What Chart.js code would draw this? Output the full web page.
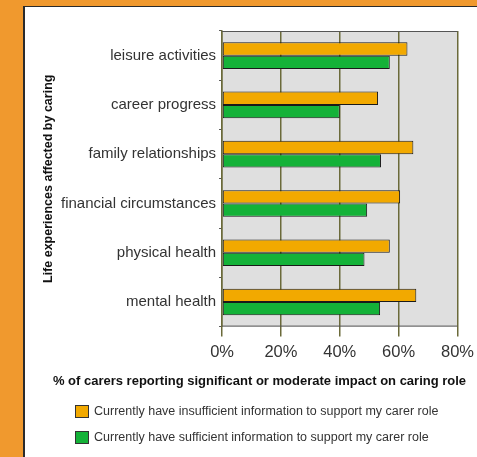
<!DOCTYPE html>
<html>
<head>
<meta charset="utf-8">
<script src="https://cdn.jsdelivr.net/npm/chart.js@4/dist/chart.umd.min.js"></script>
<style>
    html, body { margin: 0; padding: 0; }
    body { width: 477px; height: 457px; background: #f0992e; overflow: hidden; position: relative; }
    .panel {
        position: absolute; left: 23px; top: 6px; width: 454px; height: 451px;
        background: #fff; border-left: 2px solid #2b2b2b; border-top: 1px solid #2b2b2b;
    }
    /* a little wider than the panel so the last x label can sit at the edge */
    .chart-wrap { position: absolute; left: 0; top: 0; width: 455px; height: 450px; }
    .legend { position: absolute; left: 50px; top: 391px; font: 12.5px "Liberation Sans", Arial, sans-serif; color: #333; }
    .legend-row { display: flex; align-items: center; height: 26px; }
    .legend-box { width: 14px; height: 13px; border: 1px solid #333; box-sizing: border-box; margin-right: 5px; }
</style>
</head>
<body>
<div class="panel">
    <div class="chart-wrap"><canvas id="chart"></canvas></div>
    <div class="legend" id="legend"></div>
</div>
<script>
const categories = ["leisure activities", "career progress", "family relationships",
    "financial circumstances", "physical health", "mental health"];
const insufficientInfo = [63, 53, 65, 60.5, 57, 66];
const sufficientInfo = [57, 40, 54, 49.3, 48.4, 53.7];
const xTicks = [0, 20, 40, 60, 80];
const seriesNames = ["Currently have insufficient information to support my carer role",
    "Currently have sufficient information to support my carer role"];
const seriesColors = ["#f2a900", "#14b238"];

const FONT = "'Liberation Sans', Arial, sans-serif";

// grey plot background with a frame round it
const plotFrame = {
    id: "plotFrame",
    beforeDraw(chart) {
        const {ctx, chartArea: a} = chart;
        ctx.save();
        ctx.fillStyle = "#dfdfdf";
        ctx.fillRect(a.left, a.top, a.right - a.left, a.bottom - a.top);
        ctx.restore();
    },
    afterDraw(chart) {
        const {ctx, chartArea: a} = chart;
        ctx.save();
        ctx.strokeStyle = "#555";
        ctx.lineWidth = 1;
        ctx.beginPath();
        ctx.moveTo(a.left, a.top + 0.5);
        ctx.lineTo(a.right, a.top + 0.5);
        ctx.moveTo(a.left, a.bottom - 0.5);
        ctx.lineTo(a.right, a.bottom - 0.5);
        ctx.stroke();
        ctx.restore();
    }
};

const chart = new Chart(document.getElementById("chart"), {
    type: "bar",
    data: {
        labels: categories,
        datasets: [
            {label: seriesNames[0], data: insufficientInfo, backgroundColor: seriesColors[0]},
            {label: seriesNames[1], data: sufficientInfo, backgroundColor: seriesColors[1]}
        ]
    },
    options: {
        indexAxis: "y",
        responsive: true,
        maintainAspectRatio: false,
        animation: false,
        datasets: {
            bar: {
                borderColor: "#1a1a1a",
                borderWidth: 1,
                borderSkipped: false,
                barPercentage: 1,
                categoryPercentage: 0.54
            }
        },
        layout: {padding: {top: 24, left: 14, right: 0, bottom: 68}},
        plugins: {
            legend: {display: false},
            tooltip: {enabled: false},
            title: {
                display: true,
                position: "bottom",
                weight: 500,
                text: "% of carers reporting significant or moderate impact on caring role",
                color: "#111",
                font: {family: FONT, size: 13, weight: "bold"},
                padding: {top: 5, bottom: 0}
            }
        },
        scales: {
            x: {
                min: 0,
                max: 80,
                afterBuildTicks: (axis) => { axis.ticks = xTicks.map(v => ({value: v})); },
                ticks: {
                    callback: v => v + "%",
                    color: "#333",
                    padding: 6,
                    font: {family: FONT, size: 16.5}
                },
                grid: {color: "#6b6a3a", lineWidth: 1.5, tickLength: 10},
                border: {display: false}
            },
            y: {
                ticks: {color: "#333", padding: 3, font: {family: FONT, size: 15}},
                grid: {drawOnChartArea: false, color: "#555", tickLength: 3},
                border: {color: "#6b6a3a", width: 1.5},
                title: {
                    display: true,
                    text: "Life experiences affected by caring",
                    color: "#111",
                    font: {family: FONT, size: 12.5, weight: "bold"},
                    padding: {top: 2, bottom: 2}
                }
            }
        }
    },
    plugins: [plotFrame]
});

// legend, stacked on the left under the title
const legend = document.getElementById("legend");
chart.data.datasets.forEach(ds => {
    const row = document.createElement("div");
    row.className = "legend-row";
    const box = document.createElement("span");
    box.className = "legend-box";
    box.style.background = ds.backgroundColor;
    const text = document.createElement("span");
    text.textContent = ds.label;
    row.appendChild(box);
    row.appendChild(text);
    legend.appendChild(row);
});
</script>
</body>
</html>
